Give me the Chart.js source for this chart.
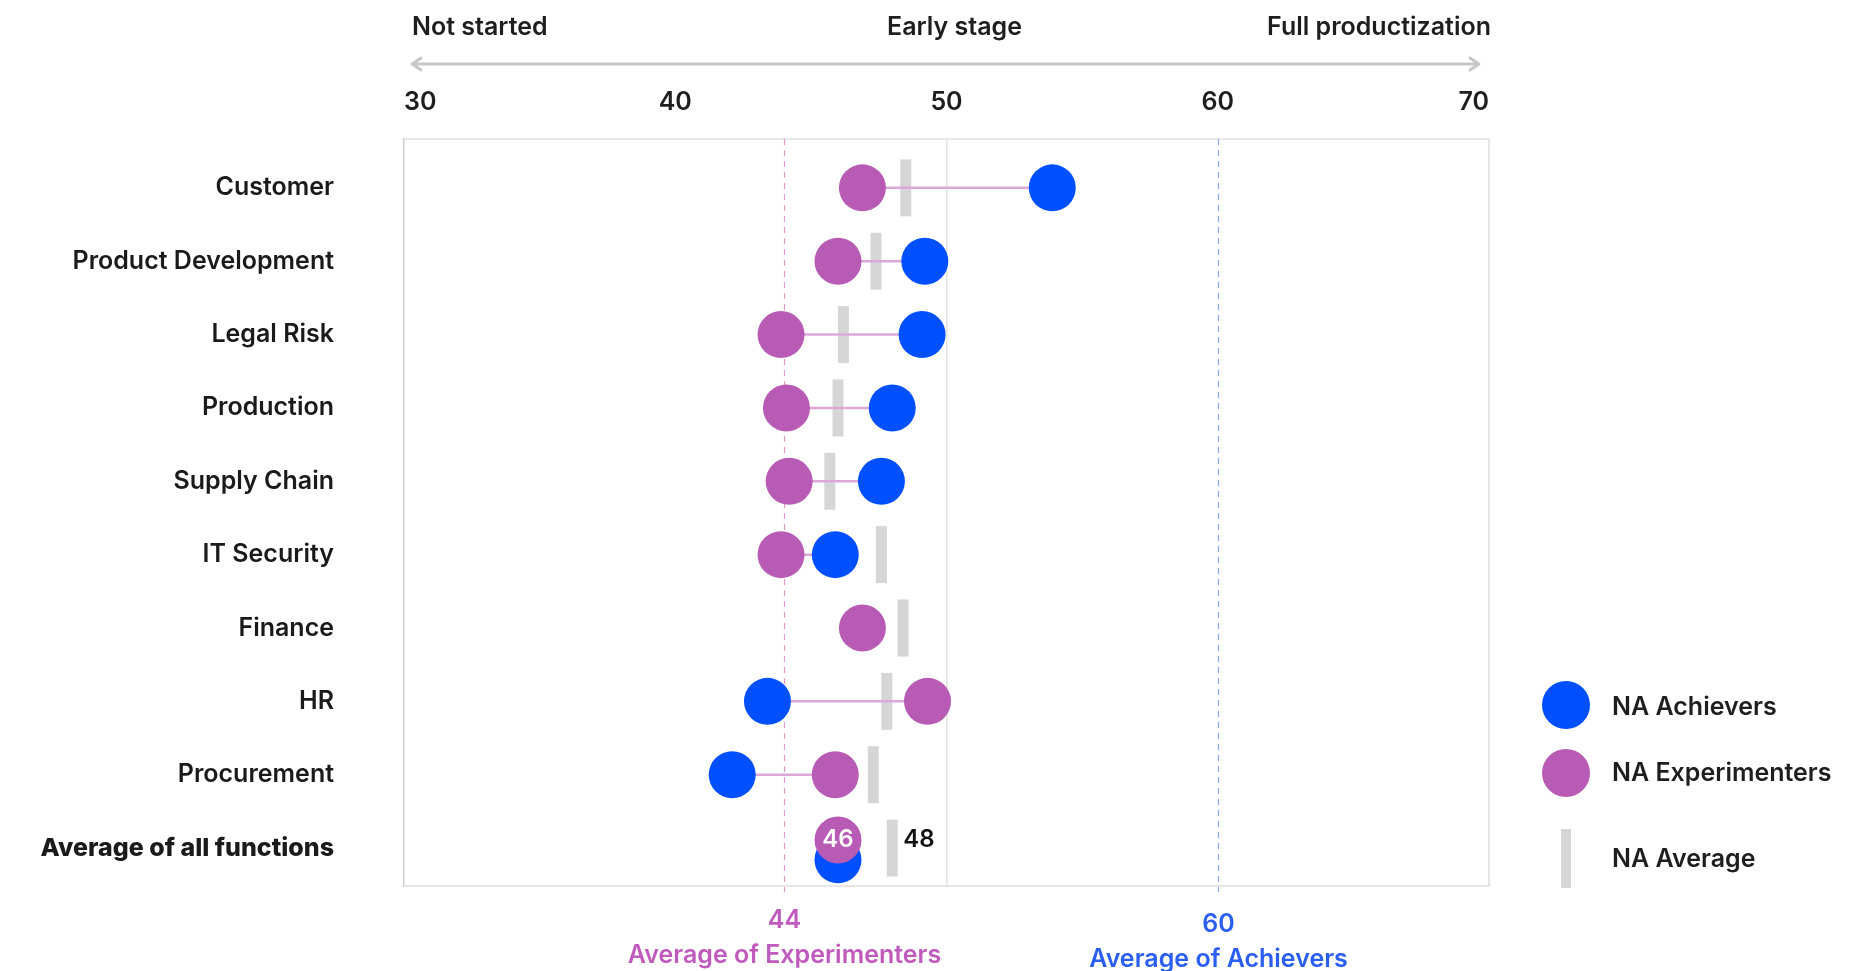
<!DOCTYPE html>
<html>
<head>
<meta charset="utf-8">
<title>AI maturity by function</title>
<script src="https://cdn.jsdelivr.net/npm/chart.js@4.4.1/dist/chart.umd.min.js"></script>
<style>
  html, body { margin: 0; padding: 0; background: #ffffff; overflow: hidden; }
  #wrap { width: 1870px; height: 971px; position: relative; }
</style>
</head>
<body>
<div id="wrap"><canvas id="c" width="1870" height="971"></canvas></div>
<script>
// Functions, top to bottom
const functions = ['Customer', 'Product Development', 'Legal Risk', 'Production', 'Supply Chain',
  'IT Security', 'Finance', 'HR', 'Procurement', 'Average of all functions'];
// Maturity scores per group (Finance has no achiever score)
const achievers     = [53.9, 49.2, 49.1, 48.0, 47.6, 45.9, null, 43.4, 42.1, 46];
const experimenters = [46.9, 46.0, 43.9, 44.1, 44.2, 43.9, 46.9, 49.3, 45.9, 46];
const naAverage     = [48.5, 47.4, 46.2, 46.0, 45.7, 47.6, 48.4, 47.8, 47.3, 48];
// Scale ticks and stage captions
const xTicks = [30, 40, 50, 60, 70];
const stageLabels = ['Not started', 'Early stage', 'Full productization'];
// Group means shown as reference lines
const experimenterMean = 44;
const achieverMean = 60;
const experimenterMeanLabel = 'Average of Experimenters';
const achieverMeanLabel = 'Average of Achievers';
const legendLabels = ['NA Achievers', 'NA Experimenters', 'NA Average'];

const BLUE = '#0050ff';
const PURPLE = '#b75bb5';
const GREY_BAR = '#d6d6d6';
const LINK = '#dca8d9';
const FONT = 'Inter, "Noto Sans", sans-serif';

const lastRow = functions.length - 1;
// the summary row stacks the two dots slightly apart so both stay visible
const rowY = (i, shift) => i === lastRow ? i + shift : i;

const datasets = [];
datasets.push({
  label: legendLabels[1],
  type: 'scatter',
  data: experimenters.map((v, i) => ({ x: v, y: rowY(i, -0.11) })),
  backgroundColor: PURPLE, borderWidth: 0, pointRadius: 23.5, pointHoverRadius: 23.5
});
datasets.push({
  label: legendLabels[0],
  type: 'scatter',
  data: achievers.map((v, i) => v === null ? null : ({ x: v, y: rowY(i, 0.16) })).filter(p => p),
  backgroundColor: BLUE, borderWidth: 0, pointRadius: 23.5, pointHoverRadius: 23.5
});
functions.forEach((f, i) => {
  if (achievers[i] === null || i === lastRow) return;
  datasets.push({
    label: 'link-' + f,
    type: 'line',
    data: [{ x: experimenters[i], y: i }, { x: achievers[i], y: i }],
    borderColor: LINK, borderWidth: 2.5, pointRadius: 0, showLine: true, fill: false
  });
});
datasets.push({
  label: legendLabels[2],
  type: 'scatter',
  data: naAverage.map((v, i) => ({ x: v, y: i })),
  pointStyle: 'line', rotation: 90, pointRadius: 28.5, pointHoverRadius: 28.5,
  borderColor: GREY_BAR, borderWidth: 11, backgroundColor: GREY_BAR
});

// Stage captions and double-headed arrow above the scale
const headerPlugin = {
  id: 'header',
  afterDraw(chart) {
    const { ctx, chartArea } = chart;
    const xs = chart.scales.x;
    ctx.save();
    ctx.fillStyle = '#1e1e1e';
    ctx.font = '600 25px ' + FONT;
    ctx.textBaseline = 'middle';
    ctx.textAlign = 'left';
    ctx.fillText(stageLabels[0], chartArea.left + 8, 27);
    ctx.textAlign = 'center';
    ctx.fillText(stageLabels[1], xs.getPixelForValue(50) + 8, 27);
    ctx.textAlign = 'right';
    ctx.fillText(stageLabels[2], chartArea.right + 2, 27);
    // arrow
    const y = 64, x0 = chartArea.left + 8, x1 = chartArea.right - 10;
    ctx.strokeStyle = '#c8c8c8';
    ctx.lineWidth = 3;
    ctx.lineCap = 'round';
    ctx.lineJoin = 'round';
    ctx.beginPath();
    ctx.moveTo(x0, y); ctx.lineTo(x1, y);
    ctx.moveTo(x0 + 9, y - 6); ctx.lineTo(x0, y); ctx.lineTo(x0 + 9, y + 6);
    ctx.moveTo(x1 - 9, y - 6); ctx.lineTo(x1, y); ctx.lineTo(x1 - 9, y + 6);
    ctx.stroke();
    ctx.restore();
  }
};

// Frame pieces and the two group-mean reference lines
const frameAndMeansPlugin = {
  id: 'frameAndMeans',
  beforeDatasetsDraw(chart) {
    const { ctx, chartArea } = chart;
    const xs = chart.scales.x;
    ctx.save();
    // right and bottom frame
    ctx.strokeStyle = '#e6e6e6';
    ctx.lineWidth = 2;
    ctx.beginPath();
    ctx.moveTo(chartArea.right, chartArea.top);
    ctx.lineTo(chartArea.right, chartArea.bottom);
    ctx.lineTo(chartArea.left, chartArea.bottom);
    ctx.stroke();
    // mean lines
    const means = [
      { v: experimenterMean, color: '#e09ac8', text: '#c05bbd', name: experimenterMeanLabel, dy: 0 },
      { v: achieverMean, color: '#8aa6f5', text: '#2b5ef2', name: achieverMeanLabel, dy: 4 }
    ];
    means.forEach(m => {
      const x = Math.round(xs.getPixelForValue(m.v)) + 0.5;
      ctx.strokeStyle = m.color;
      ctx.lineWidth = 1.2;
      ctx.setLineDash([6, 5]);
      ctx.beginPath();
      ctx.moveTo(x, chartArea.top);
      ctx.lineTo(x, chartArea.bottom + 6);
      ctx.stroke();
      ctx.setLineDash([]);
      ctx.fillStyle = m.text;
      ctx.font = '600 25px ' + FONT;
      ctx.textAlign = 'center';
      ctx.textBaseline = 'middle';
      ctx.fillText(String(m.v), x, 920 + m.dy);
      ctx.fillText(m.name, x, 955 + m.dy);
    });
    ctx.restore();
  }
};

// Value labels for the summary row
const summaryLabelsPlugin = {
  id: 'summaryLabels',
  afterDatasetsDraw(chart) {
    const { ctx } = chart;
    const xs = chart.scales.x, ys = chart.scales.y;
    ctx.save();
    ctx.textBaseline = 'middle';
    const expPt = chart.getDatasetMeta(0).data[lastRow];
    ctx.fillStyle = '#ffffff';
    ctx.font = '600 24px ' + FONT;
    ctx.textAlign = 'center';
    ctx.fillText(String(Math.round(experimenters[lastRow])), expPt.x, expPt.y);
    ctx.fillStyle = '#111111';
    ctx.textAlign = 'left';
    ctx.fillText(String(Math.round(naAverage[lastRow])), xs.getPixelForValue(naAverage[lastRow]) + 11, ys.getPixelForValue(lastRow) - 8);
    ctx.restore();
  }
};

// Legend on the right
const legendPlugin = {
  id: 'sideLegend',
  afterDraw(chart) {
    const { ctx, chartArea } = chart;
    const cx = chartArea.right + 77, tx = chartArea.right + 123;
    ctx.save();
    ctx.font = '600 25px ' + FONT;
    ctx.textBaseline = 'middle';
    ctx.textAlign = 'left';
    ctx.fillStyle = BLUE;
    ctx.beginPath(); ctx.arc(cx, 705, 24, 0, Math.PI * 2); ctx.fill();
    ctx.fillStyle = PURPLE;
    ctx.beginPath(); ctx.arc(cx, 773, 24, 0, Math.PI * 2); ctx.fill();
    ctx.fillStyle = GREY_BAR;
    ctx.fillRect(cx - 5, 829, 10, 59);
    ctx.fillStyle = '#1e1e1e';
    ctx.fillText(legendLabels[0], tx, 707);
    ctx.fillText(legendLabels[1], tx, 773);
    ctx.fillText(legendLabels[2], tx, 859);
    ctx.restore();
  }
};

new Chart(document.getElementById('c'), {
  type: 'scatter',
  data: { datasets },
  options: {
    responsive: false,
    animation: false,
    devicePixelRatio: 1,
    layout: { padding: { left: 0, right: 381, top: 0, bottom: 83 } },
    plugins: { legend: { display: false }, tooltip: { enabled: false } },
    scales: {
      x: {
        type: 'linear', position: 'top', min: 30, max: 70,
        afterBuildTicks: (axis) => { axis.ticks = xTicks.map(v => ({ value: v })); },
        afterFit: (axis) => { axis.height = 139; },
        ticks: {
          align: 'inner', padding: 22, color: '#1e1e1e',
          font: { family: FONT, size: 25, weight: '600' }
        },
        grid: {
          drawTicks: false, lineWidth: 1.5,
          color: (c) => (c.tick && c.tick.value === 50) ? '#e2e2e2' : 'rgba(0,0,0,0)'
        },
        border: { display: true, color: '#e8e8e8', width: 2 }
      },
      y: {
        type: 'linear', reverse: true, min: -0.666, max: 9.517,
        afterBuildTicks: (axis) => { axis.ticks = functions.map((f, i) => ({ value: i })); },
        afterFit: (axis) => { axis.width = 404; },
        ticks: {
          padding: 70, color: '#1a1a1a',
          callback: (v) => functions[v],
          font: (c) => ({ family: FONT, size: 25, weight: (c.tick && c.tick.value === lastRow) ? '800' : '600' })
        },
        grid: { display: false, drawTicks: false },
        border: { display: true, color: '#cfcfcf', width: 1.5, dash: [6, 4] }
      }
    }
  },
  plugins: [frameAndMeansPlugin, summaryLabelsPlugin, headerPlugin, legendPlugin]
});
</script>
</body>
</html>
